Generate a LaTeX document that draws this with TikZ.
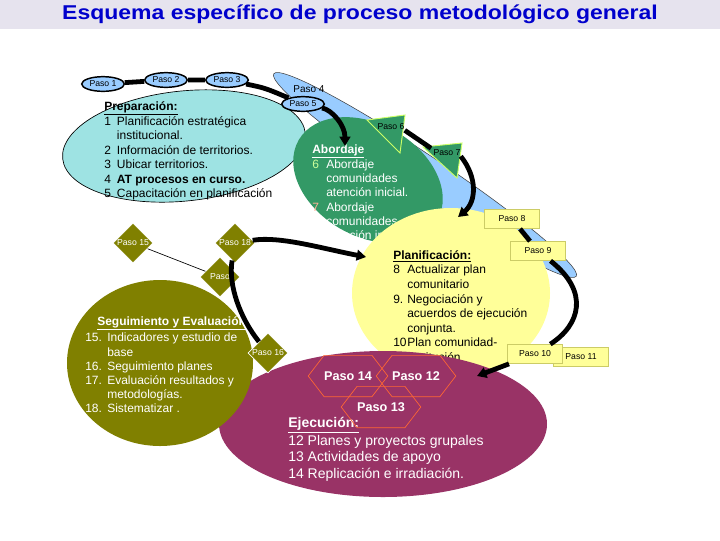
\documentclass[tikz,border=0pt]{standalone}
\usepackage{fontspec}
\setmainfont{Liberation Sans}
\usepackage{tikz}
\usetikzlibrary{arrows.meta,shapes.geometric,shapes.symbols}

\definecolor{bandgray}{HTML}{E6E3EE}
\definecolor{titleblue}{HTML}{0000CC}
\definecolor{prepcol}{HTML}{9EE3E3}
\definecolor{pasoblue}{HTML}{99CCFF}
\definecolor{abgreen}{HTML}{339966}
\definecolor{planyel}{HTML}{FFFF99}
\definecolor{ejemaroon}{HTML}{993366}
\definecolor{segolive}{HTML}{808000}
\definecolor{hexline}{HTML}{FF6633}
\definecolor{triline}{HTML}{CCFF66}
\definecolor{boxline}{HTML}{CCCC66}
\definecolor{numgreen}{HTML}{CCFF99}
\definecolor{numpink}{HTML}{FFB399}

\begin{document}
\begin{tikzpicture}[x=0.75pt,y=-0.75pt,>={Triangle[length=7pt,width=8pt]},
    paso/.style={font=\fontsize{6.5}{7}\selectfont, inner sep=0pt},
    pasoell/.style={paso, ellipse, draw, line width=1.1pt, fill=pasoblue, minimum width=32pt, minimum height=11pt},
    pasobox/.style={paso, rectangle, draw=boxline, line width=0.8pt, fill=planyel, minimum width=41pt, minimum height=14pt},
    pasodia/.style={paso, diamond, aspect=1, fill=segolive, draw=white, line width=0.5pt, text=white, minimum width=30pt, minimum height=30pt},
    pasohex/.style={signal, signal to=west and east, signal pointer angle=105, draw=hexline, line width=0.5pt,
                    font=\fontsize{9.5}{11}\bfseries\selectfont, text=white, minimum width=58pt, minimum height=31pt, inner sep=0pt},
    pasotri/.style={fill=abgreen, draw=triline, line width=0.7pt},
    flow/.style={line width=3.6pt},
    txt/.style={inner sep=0pt, anchor=north west, align=left}]

    \useasboundingbox (0,0) rectangle (720,540);

    % titulo
    \fill[bandgray] (0,0) rectangle (720,29);
    \node[font=\fontsize{15}{18}\bfseries\selectfont, text=titleblue] (title) at (360,14)
        {\scalebox{1.15}[1]{Esquema específico de proceso metodológico general}};

    % fases
    \filldraw[fill=pasoblue, draw=black!75, line width=0.4pt, rotate around={-33.8:(425,175)}] (425,175) ellipse (182 and 19);
    \filldraw[fill=prepcol, draw=black, line width=0.5pt, rotate around={6:(184,146)}] (184,146) ellipse (122 and 55);
    \node[txt, font=\fontsize{9}{10.8}\selectfont] (prep) at (104,100) {\begin{tabular}{@{}p{9.5pt}@{}l@{}}
        \multicolumn{2}{@{}l@{}}{\underline{\textbf{Preparación:}}}\\
        1 & Planificación estratégica\\
          & institucional.\\
        2 & Información de territorios.\\
        3 & Ubicar territorios.\\
        4 & \textbf{AT procesos en curso.}\\
        5 & Capacitación en planificación
    \end{tabular}};

    \fill[abgreen, rotate around={-30:(368,180)}] (368,180) ellipse (80 and 56);
    \node[txt, text=white, font=\fontsize{9}{10.7}\selectfont] (abord) at (312,143) {\begin{tabular}{@{}p{10.5pt}@{}l@{}}
        \multicolumn{2}{@{}l@{}}{\underline{\textbf{Abordaje}}}\\
        \textcolor{numgreen}{6} & Abordaje\\
          & comunidades\\
          & atención inicial.\\
        \textcolor{numpink}{7} & Abordaje\\
          & comunidades\\
          & atención irradiada
    \end{tabular}};

    \fill[planyel] (451,293) ellipse (99 and 85);
    \node[txt, font=\fontsize{9}{10.9}\selectfont] (plani) at (393,249) {\begin{tabular}{@{}p{10.5pt}@{}l@{}}
        \multicolumn{2}{@{}l@{}}{\underline{\textbf{Planificación:}}}\\
        8  & Actualizar plan\\
           & comunitario\\
        9. & Negociación y\\
           & acuerdos de ejecución\\
           & conjunta.\\
        10 & Plan comunidad-\\
           & institución
    \end{tabular}};

    \fill[ejemaroon] (383,424) ellipse (164 and 73);
    \node[txt, text=white, font=\fontsize{10.5}{12.5}\selectfont] (ejec) at (288,416) {\begin{tabular}{@{}l@{}}
        \underline{\textbf{Ejecución:}}\\
        12 Planes y proyectos grupales\\
        13 Actividades de apoyo\\
        14 Replicación e irradiación.
    \end{tabular}};

    \fill[segolive] (160,363) ellipse (93 and 83);
    \node[txt, text=white, font=\fontsize{9}{10.6}\selectfont] (segui) at (85,315) {\begin{tabular}{@{}p{16.5pt}@{}l@{}}
        \multicolumn{2}{@{}l@{}}{\hspace{9pt}\underline{\textbf{Seguimiento y Evaluación:}}}\\[2pt]
        15. & Indicadores y estudio de\\
            & base\\
        16. & Seguimiento planes\\
        17. & Evaluación resultados y\\
            & metodologías.\\
        18. & Sistematizar .
    \end{tabular}};

    % pasos
    \node[pasohex] (p14) at (348,376) {Paso 14};
    \node[pasohex] (p12) at (416,376) {Paso 12};
    \node[pasohex] (p13) at (381,407) {Paso 13};

    \filldraw[pasotri] (367,120) -- (405,115) -- (400,153) -- cycle;
    \filldraw[pasotri] (423,147) -- (462,143) -- (457,178) -- cycle;
    \node[paso] (p6) at (391,127) {Paso 6};
    \node[paso] (p7) at (447,153) {Paso 7};

    \node[pasoell] (p1) at (103,84)  {Paso 1};
    \node[pasoell] (p2) at (166,80)  {Paso 2};
    \node[pasoell] (p3) at (227,80)  {Paso 3};
    \node[font=\fontsize{7.5}{8}\selectfont, inner sep=0pt] (p4) at (309,89) {Paso 4};
    \node[pasoell] (p5) at (303,104) {Paso 5};

    \node[pasobox] (p11) at (581,357) {Paso 11};
    \node[pasobox] (p10) at (535,354) {Paso 10};
    \node[pasobox] (p8)  at (512,219) {Paso 8};
    \node[pasobox] (p9)  at (538,251) {Paso 9};

    \node[pasodia] (p15) at (133,243) {Paso 15};
    \node[pasodia] (p18) at (235,243) {Paso 18};
    \node[pasodia] (p17) at (220,277) {Paso};
    \node[pasodia] (p16) at (268,353) {Paso 16};

    \coordinate (abtop)   at (345,146);
    \coordinate (planin)  at (458,217);
    \coordinate (planleft) at (366,257);
    \coordinate (ejecin)  at (477,376);

    % flechas
    \draw[flow] (p1) -- (p2) -- (p3);
    \draw[flow] (p3) .. controls (265,88) .. (p5);
    \draw[flow,->] (p5) .. controls (332,110) and (345,125) .. (abtop);
    \draw[flow,shorten >=2pt] (p6.south east) -- (p7.north west);
    \draw[flow,->] (p7.south east) .. controls (478,178) and (476,202) .. (planin);
    \draw[flow] (p8) -- (p9);
    \draw[flow] (p9) .. controls (590,292) and (580,325) .. (p10);
    \draw[flow,->] (p10) -- (ejecin);
    \draw[flow,->] (p18) .. controls (280,236) and (320,248) .. (planleft);
    \draw[flow] (p18) .. controls (228,285) and (240,318) .. (p16);
    \draw[line width=0.5pt] (p15) -- (p17);
\end{tikzpicture}
\end{document}
